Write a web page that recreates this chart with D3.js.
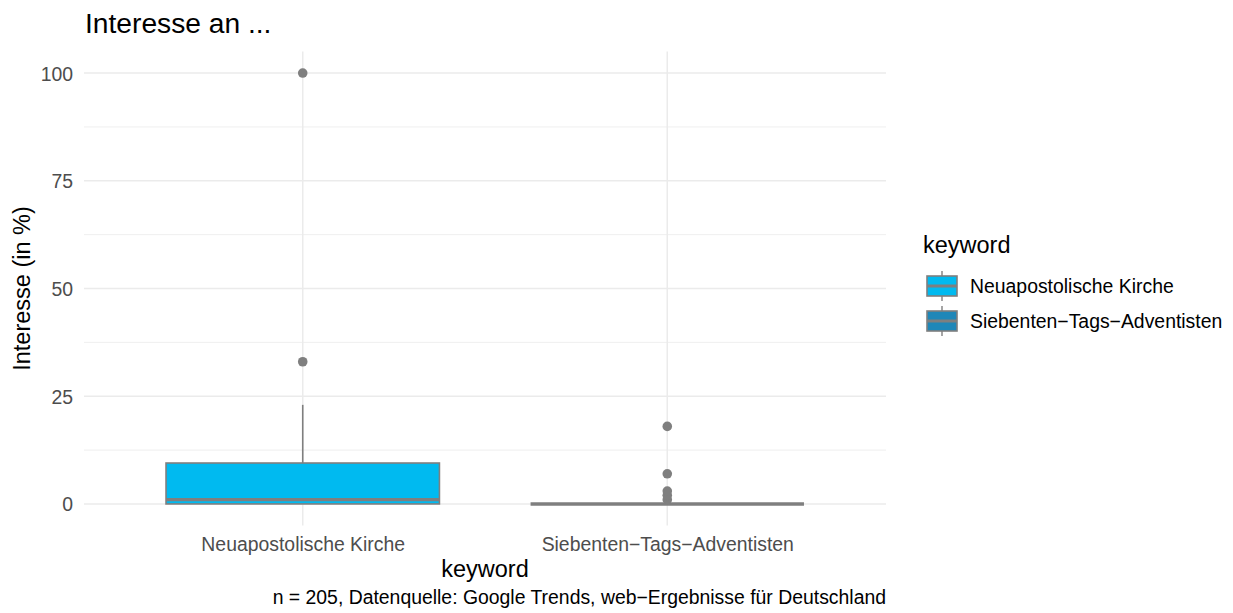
<!DOCTYPE html>
<html><head><meta charset="utf-8">
<script src="https://cdn.jsdelivr.net/npm/d3@7"></script>
<style>body{margin:0;background:#fff}text{font-family:"Liberation Sans",Arial,sans-serif}</style>
</head><body><svg id="c" width="1233" height="613"></svg>
<script>
const categories = ["Neuapostolische Kirche", "Siebenten\u2212Tags\u2212Adventisten"];
const lowerWhisker = [0, 0];
const q1 = [0, 0];
const median = [1, 0];
const q3 = [9.5, 0];
const upperWhisker = [23, 0];
const outliers = [[33, 100], [1, 2, 3, 7, 18]];
const fills = ["#00BAF0", "#1F87B8"];
const yTicks = [0, 25, 50, 75, 100];
const yMinor = [12.5, 37.5, 62.5, 87.5];

const svg = d3.select("#c");
const L = 84, R = 886, T = 51.5, B = 525.5;
const y = d3.scaleLinear().domain([-5, 105]).range([B, T]);
const x = d3.scaleLinear().domain([0.4, 2.6]).range([L, R]);
const grid = "#EBEBEB", lineCol = "#7F7F7F";
const base = 23.5, small = 19.4;

const g = svg.append("g");
yMinor.forEach(v => g.append("line").attr("x1", L).attr("x2", R).attr("y1", y(v)).attr("y2", y(v)).attr("stroke", grid).attr("stroke-width", 0.8));
yTicks.forEach(v => g.append("line").attr("x1", L).attr("x2", R).attr("y1", y(v)).attr("y2", y(v)).attr("stroke", grid).attr("stroke-width", 1.5));
categories.forEach((c, i) => g.append("line").attr("x1", x(i + 1)).attr("x2", x(i + 1)).attr("y1", T).attr("y2", B).attr("stroke", grid).attr("stroke-width", 1.5));

// y axis
const yAxis = d3.axisLeft(y).tickValues(yTicks).tickSize(0).tickPadding(0);
const ya = svg.append("g").attr("transform", `translate(73,0)`).call(yAxis);
ya.select(".domain").remove();
ya.selectAll("text").attr("fill", "#4D4D4D").style("font-size", small + "px").attr("x", 0).attr("dy", "0.36em");

// x axis
const xAxis = d3.axisBottom(x).tickValues([1, 2]).tickFormat((d) => categories[d - 1]).tickSize(0).tickPadding(0);
const xa = svg.append("g").attr("transform", `translate(0,${B})`).call(xAxis);
xa.select(".domain").remove();
xa.selectAll("text").attr("fill", "#4D4D4D").style("font-size", small + "px").attr("y", 25.3).attr("dy", 0);

const bw = 0.75 * (x(2) - x(1));
categories.forEach((c, i) => {
  const cx = x(i + 1);
  const bg = svg.append("g");
  bg.append("line").attr("x1", cx).attr("x2", cx).attr("y1", y(q3[i])).attr("y2", y(upperWhisker[i])).attr("stroke", lineCol).attr("stroke-width", 1.6);
  bg.append("line").attr("x1", cx).attr("x2", cx).attr("y1", y(q1[i])).attr("y2", y(lowerWhisker[i])).attr("stroke", lineCol).attr("stroke-width", 1.6);
  bg.append("rect").attr("x", cx - bw / 2).attr("width", bw).attr("y", y(q3[i])).attr("height", Math.max(0, y(q1[i]) - y(q3[i])))
    .attr("fill", fills[i]).attr("stroke", lineCol).attr("stroke-width", 1.6);
  bg.append("line").attr("x1", cx - bw / 2).attr("x2", cx + bw / 2).attr("y1", y(median[i])).attr("y2", y(median[i])).attr("stroke", lineCol).attr("stroke-width", 3.4);
  outliers[i].forEach(v => bg.append("circle").attr("cx", cx).attr("cy", y(v)).attr("r", 4.8).attr("fill", lineCol));
});

// titles
svg.append("text").attr("x", 85).attr("y", 33.3).text("Interesse an ...").style("font-size", (base * 1.2) + "px").attr("fill", "#000");
svg.append("text").attr("transform", `translate(30,${(T + B) / 2}) rotate(-90)`).attr("text-anchor", "middle").text("Interesse (in %)").style("font-size", base + "px");
svg.append("text").attr("x", (L + R) / 2).attr("y", 577).attr("text-anchor", "middle").text("keyword").style("font-size", base + "px");
svg.append("text").attr("x", R).attr("y", 604).attr("text-anchor", "end").text("n = 205, Datenquelle: Google Trends, web\u2212Ergebnisse für Deutschland").style("font-size", small + "px");

// legend
const lg = svg.append("g");
lg.append("text").attr("x", 923).attr("y", 252.5).text("keyword").style("font-size", base + "px");
categories.forEach((c, i) => {
  const cy = 286 + i * 35;
  const kx = 927, kw = 30, kh = 20;
  lg.append("line").attr("x1", kx + kw / 2).attr("x2", kx + kw / 2).attr("y1", cy - 15).attr("y2", cy + 15).attr("stroke", lineCol).attr("stroke-width", 1.4);
  lg.append("rect").attr("x", kx).attr("y", cy - kh / 2).attr("width", kw).attr("height", kh).attr("fill", fills[i]).attr("stroke", lineCol).attr("stroke-width", 1.6);
  lg.append("line").attr("x1", kx).attr("x2", kx + kw).attr("y1", cy).attr("y2", cy).attr("stroke", lineCol).attr("stroke-width", 3);
  lg.append("text").attr("x", 970).attr("y", cy).attr("dy", "0.36em").text(c).style("font-size", small + "px");
});
</script></body></html>
